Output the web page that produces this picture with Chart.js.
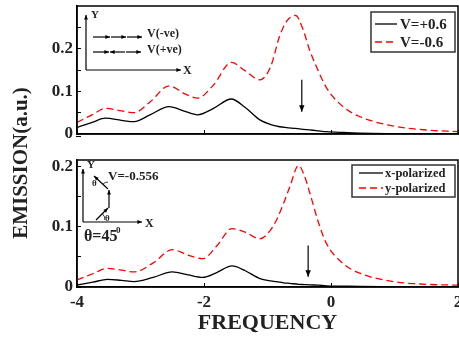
<!DOCTYPE html>
<html>
<head>
<meta charset="utf-8">
<script src="https://cdn.jsdelivr.net/npm/chart.js@4.4.1/dist/chart.umd.min.js"></script>
<style>
html, body { margin: 0; padding: 0; background: #fff; }
#wrap { position: relative; width: 459px; height: 339px; }
canvas { position: absolute; left: 0; top: 0; }
</style>
</head>
<body>
<div id="wrap">
  <canvas id="topChart" width="459" height="339"></canvas>
  <canvas id="bottomChart" width="459" height="339"></canvas>
</div>
<script>
// top panel: V=+0.6 / V=-0.6
const freqTop = [-4, -3.75, -3.55, -3.3, -3.1, -2.85, -2.55, -2.3, -2.1, -1.85, -1.57, -1.35, -1.12,
  -0.95, -0.81, -0.7, -0.56, -0.44, -0.34, -0.23, -0.07, 0.19, 0.45, 0.97, 1.5, 2];
const emissionPlus = [0.015, 0.028, 0.037, 0.032, 0.029, 0.045, 0.064, 0.053, 0.045, 0.060, 0.082, 0.062, 0.033,
  0.022, 0.017, 0.015, 0.013, 0.011, 0.0095, 0.008, 0.0055, 0.0035, 0.002, 0.001, 0.0007, 0.0005];
const emissionMinus = [0.027, 0.046, 0.060, 0.054, 0.050, 0.075, 0.113, 0.094, 0.084, 0.115, 0.168, 0.148, 0.127,
  0.158, 0.229, 0.264, 0.278, 0.245, 0.198, 0.158, 0.108, 0.064, 0.041, 0.019, 0.0094, 0.0055];

// bottom panel: x / y polarized
const freqBottom = [-4, -3.75, -3.52, -3.3, -3.1, -2.8, -2.5, -2.25, -2.02, -1.8, -1.56, -1.35, -1.12,
  -0.95, -0.86, -0.75, -0.65, -0.51, -0.42, -0.33, -0.2, -0.07, 0.19, 0.45, 0.98, 1.5, 2];
const emissionX = [0.0033, 0.008, 0.0127, 0.011, 0.009, 0.016, 0.025, 0.020, 0.016, 0.024, 0.035, 0.027, 0.014,
  0.010, 0.0088, 0.007, 0.006, 0.0045, 0.004, 0.0035, 0.003, 0.002, 0.0015, 0.001, 0.0007, 0.0005, 0.0004];
const emissionY = [0.0116, 0.022, 0.031, 0.028, 0.025, 0.040, 0.062, 0.053, 0.047, 0.068, 0.097, 0.091, 0.080,
  0.095, 0.111, 0.138, 0.166, 0.202, 0.185, 0.155, 0.108, 0.072, 0.039, 0.023, 0.009, 0.0045, 0.003];

const xTicks = [-4, -2, 0, 2];
const yTicks = [0, 0.05, 0.1, 0.15, 0.2, 0.25];
const yTickLabels = [0, 0.1, 0.2];
const topLabels = ['V=+0.6', 'V=-0.6'];
const bottomLabels = ['x-polarized', 'y-polarized'];

const SERIF = '"Liberation Serif", "DejaVu Serif", serif';

function pts(xs, ys) { return xs.map((x, i) => ({ x: x, y: ys[i] })); }

function arrow(ctx, x1, y1, x2, y2, h) {
    h = h || 5;
    const a = Math.atan2(y2 - y1, x2 - x1);
    ctx.beginPath(); ctx.moveTo(x1, y1); ctx.lineTo(x2, y2); ctx.stroke();
    ctx.beginPath();
    ctx.moveTo(x2, y2);
    ctx.lineTo(x2 - h * Math.cos(a - 0.4), y2 - h * Math.sin(a - 0.4));
    ctx.lineTo(x2 - h * Math.cos(a + 0.4), y2 - h * Math.sin(a + 0.4));
    ctx.closePath(); ctx.fill();
}

function text(ctx, s, x, y, size, align) {
    ctx.font = 'bold ' + size + 'px ' + SERIF;
    ctx.textAlign = align || 'left';
    ctx.textBaseline = 'middle';
    ctx.fillText(s, x, y);
}

const framePlugin = {
    id: 'frame',
    afterDraw(chart) {
        const { ctx, chartArea: a } = chart;
        ctx.save();
        ctx.strokeStyle = '#000'; ctx.lineWidth = 1.5;
        ctx.strokeRect(a.left, a.top, a.right - a.left, a.bottom - a.top);
        ctx.restore();
    }
};

const boxLegend = {
    id: 'boxLegend',
    afterDraw(chart, args, o) {
        const ctx = chart.ctx;
        ctx.save();
        ctx.fillStyle = '#fff';
        ctx.fillRect(o.x, o.y, o.w, o.h);
        ctx.strokeStyle = '#333'; ctx.lineWidth = 1.5;
        ctx.strokeRect(o.x, o.y, o.w, o.h);
        chart.data.datasets.forEach((ds, i) => {
            const y = o.rows[i];
            ctx.strokeStyle = ds.borderColor; ctx.lineWidth = 1.3;
            ctx.setLineDash(ds.borderDash || []);
            ctx.beginPath(); ctx.moveTo(o.x1, y); ctx.lineTo(o.x2, y); ctx.stroke();
            ctx.setLineDash([]);
            ctx.fillStyle = '#222';
            text(ctx, ds.label, o.tx, y + 1, o.size);
        });
        ctx.restore();
    }
};

const downArrow = {
    id: 'downArrow',
    afterDatasetsDraw(chart, args, o) {
        const { ctx, scales } = chart;
        const x = scales.x.getPixelForValue(o.f);
        ctx.save();
        ctx.strokeStyle = '#000'; ctx.fillStyle = '#000'; ctx.lineWidth = 1.2;
        arrow(ctx, x, scales.y.getPixelForValue(o.from), x, scales.y.getPixelForValue(o.to), 7);
        ctx.restore();
    }
};

const topInset = {
    id: 'topInset',
    afterDraw(chart) {
        const ctx = chart.ctx;
        ctx.save();
        ctx.strokeStyle = '#000'; ctx.fillStyle = '#000'; ctx.lineWidth = 1.2;
        arrow(ctx, 86, 70, 86, 15, 5);
        arrow(ctx, 86, 70, 181, 70, 5);
        arrow(ctx, 93, 37, 110, 37, 5);
        arrow(ctx, 111, 37, 126, 37, 5);
        arrow(ctx, 127, 37, 142, 37, 5);
        arrow(ctx, 93, 52, 109, 52, 5);
        arrow(ctx, 125, 52, 110, 52, 5);
        arrow(ctx, 126, 52, 141, 52, 5);
        ctx.fillStyle = '#222';
        text(ctx, 'Y', 91, 15, 11);
        text(ctx, 'X', 183, 71, 12);
        text(ctx, 'V(-ve)', 147, 34, 12);
        text(ctx, 'V(+ve)', 147, 50, 12);
        ctx.restore();
    }
};

const bottomInset = {
    id: 'bottomInset',
    afterDraw(chart) {
        const ctx = chart.ctx;
        ctx.save();
        ctx.strokeStyle = '#000'; ctx.fillStyle = '#000'; ctx.lineWidth = 1.2;
        arrow(ctx, 83, 222, 83, 169, 5);
        arrow(ctx, 83, 222, 142, 222, 5);
        arrow(ctx, 96, 220, 108, 208, 5);
        arrow(ctx, 109, 208, 109, 190, 5);
        arrow(ctx, 108, 189, 94, 176, 5);
        ctx.lineWidth = 0.8;
        ctx.beginPath(); ctx.arc(96, 220, 9, -Math.PI / 4, 0); ctx.stroke();
        ctx.beginPath(); ctx.arc(108, 189, 7, Math.PI * 1.25, Math.PI * 1.5); ctx.stroke();
        ctx.fillStyle = '#222';
        text(ctx, 'Y', 87, 165, 11);
        text(ctx, 'X', 145, 224, 12);
        text(ctx, 'θ', 105, 219, 9);
        text(ctx, 'θ', 92, 184, 9);
        text(ctx, 'V=-0.556', 108, 177, 13);
        text(ctx, 'θ=45', 84, 237, 16);
        text(ctx, '0', 116, 231, 9);
        // shared y title
        ctx.translate(22, 163);
        ctx.rotate(-Math.PI / 2);
        text(ctx, 'EMISSION(a.u.)', 0, 0, 21, 'center');
        ctx.restore();
    }
};

function makeChart(id, freq, series, cfg) {
    const tickFont = { family: SERIF, size: 17, weight: 'bold' };
    return new Chart(document.getElementById(id), {
        type: 'line',
        data: {
            datasets: series.map(s => ({
                label: s.label, data: pts(freq, s.values),
                borderColor: s.color, borderWidth: 1.3, borderDash: s.dash,
                pointRadius: 0, cubicInterpolationMode: 'monotone', fill: false
            }))
        },
        options: {
            responsive: false, animation: false,
            layout: { padding: cfg.padding },
            plugins: {
                legend: { display: false }, tooltip: { enabled: false },
                boxLegend: cfg.legend, downArrow: cfg.arrow
            },
            scales: {
                x: {
                    type: 'linear', min: -4, max: 2,
                    afterBuildTicks: s => { s.ticks = xTicks.map(v => ({ value: v })); },
                    afterFit: s => { s.height = cfg.xHeight; s.paddingLeft = 0; s.paddingRight = 0; },
                    ticks: { display: cfg.xLabels, font: tickFont, color: '#222', padding: 9, maxRotation: 0, autoSkip: false },
                    grid: { drawOnChartArea: false, tickLength: -4, color: '#000' },
                    border: { color: '#000', width: 1.5 },
                    title: {
                        display: cfg.xLabels, text: 'FREQUENCY', color: '#222',
                        font: { family: SERIF, size: 22, weight: 'bold' }, padding: { top: 0, bottom: 2 }
                    }
                },
                y: {
                    min: 0, max: cfg.yMax,
                    afterBuildTicks: s => { s.ticks = yTicks.map(v => ({ value: v })); },
                    afterFit: s => { s.width = 77; s.paddingTop = 0; s.paddingBottom = 0; },
                    ticks: {
                        font: tickFont, color: '#222', padding: 8,
                        callback: v => {
                            const t = yTickLabels.find(t => Math.abs(t - v) < 1e-9);
                            return t === undefined ? '' : String(t);
                        }
                    },
                    grid: { drawOnChartArea: false, tickLength: -4, color: '#000' },
                    border: { color: '#000', width: 1.5 }
                }
            }
        },
        plugins: [framePlugin, downArrow, boxLegend].concat(cfg.extra)
    });
}

makeChart('topChart', freqTop, [
    { label: topLabels[0], values: emissionPlus, color: '#000', dash: [] },
    { label: topLabels[1], values: emissionMinus, color: '#ff0000', dash: [7, 4] }
], {
    padding: { top: 6, right: 1, bottom: 205, left: 0 },
    xHeight: 0, xLabels: false, yMax: 0.3,
    legend: { x: 371, y: 12, w: 84, h: 40, x1: 375, x2: 397, tx: 400, rows: [24, 42], size: 15 },
    arrow: { f: -0.46, from: 0.127, to: 0.052 },
    extra: [topInset]
});

makeChart('bottomChart', freqBottom, [
    { label: bottomLabels[0], values: emissionX, color: '#000', dash: [] },
    { label: bottomLabels[1], values: emissionY, color: '#ff0000', dash: [7, 4] }
], {
    padding: { top: 160, right: 1, bottom: 0, left: 0 },
    xHeight: 52, xLabels: true, yMax: 0.211,
    legend: { x: 352, y: 165, w: 103, h: 32, x1: 359, x2: 383, tx: 385, rows: [173, 188], size: 12.5 },
    arrow: { f: -0.36, from: 0.069, to: 0.017 },
    extra: [bottomInset]
});
</script>
</body>
</html>
